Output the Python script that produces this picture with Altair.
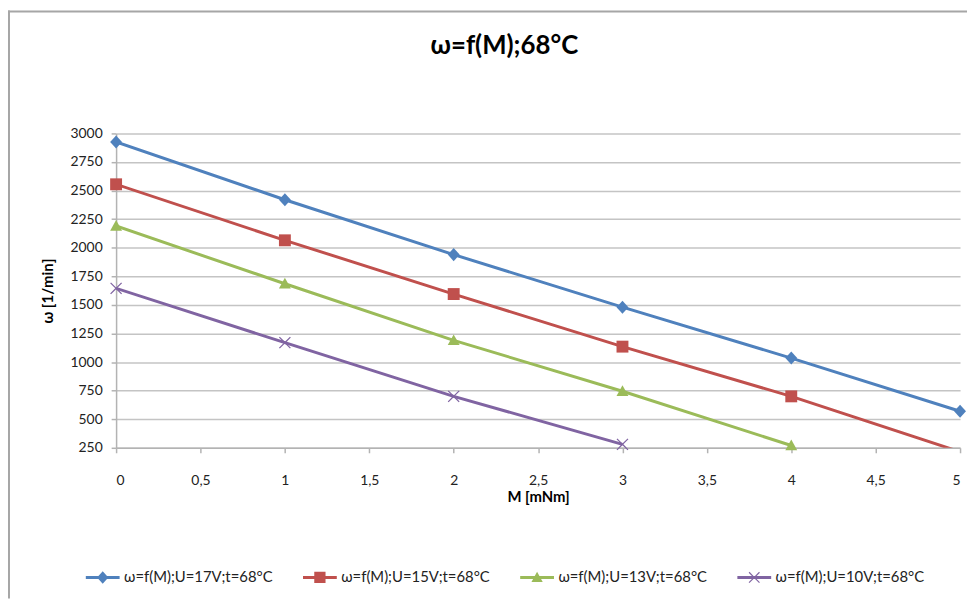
import altair as alt
import pandas as pd

M = [0, 1, 2, 3, 4, 5]
series = [
    "ω=f(M);U=17V;t=68°C",
    "ω=f(M);U=15V;t=68°C",
    "ω=f(M);U=13V;t=68°C",
    "ω=f(M);U=10V;t=68°C",
]
w_17 = [2925, 2420, 1940, 1480, 1035, 570]
w_15 = [2555, 2065, 1595, 1135, 700, 215]
w_13 = [2190, 1685, 1190, 745, 270]
w_10 = [1645, 1170, 700, 280]
colors = ["#4F81BD", "#C0504D", "#9BBB59", "#8064A2"]
x_ticks = [0, 0.5, 1, 1.5, 2, 2.5, 3, 3.5, 4, 4.5, 5]
y_ticks = [250, 500, 750, 1000, 1250, 1500, 1750, 2000, 2250, 2500, 2750, 3000]

rows = []
for s, vals in zip(series, [w_17, w_15, w_13, w_10]):
    for m, w in zip(M, vals):
        rows.append({"series": s, "M": m, "w": w})
df = pd.DataFrame(rows)

FONT = "Lato"
GRAY = "#b3b3b3"

marker_paths = [
    "M0,-1.1L1,0L0,1.1L-1,0Z",
    "M-1,-1L1,-1L1,1L-1,1Z",
    "M0,-1L1,0.8L-1,0.8Z",
    "M-1,-0.85L-0.85,-1L0,-0.15L0.85,-1L1,-0.85L0.15,0L1,0.85L0.85,1L0,0.15L-0.85,1L-1,0.85L-0.15,0Z",
]
bar = "M-3,-0.27L3,-0.27L3,0.27L-3,0.27Z"
legend_paths = [bar + p for p in marker_paths]

x_enc = alt.X(
    "M:Q",
    scale=alt.Scale(domain=[0, 5], nice=False),
    axis=alt.Axis(
        values=x_ticks,
        title="M [mNm]",
        grid=False,
        format="~g",
        labelExpr="replace(datum.label, '.', ',')",
        tickSize=5,
        labelPadding=21,
        titlePadding=2,
    ),
)
y_enc = alt.Y(
    "w:Q",
    scale=alt.Scale(domain=[250, 3000], nice=False, zero=False),
    axis=alt.Axis(
        values=y_ticks,
        title="ω [1/min]",
        grid=True,
        format="d",
        tickSize=5,
        labelPadding=9,
        titlePadding=15,
    ),
)


def cscale():
    return alt.Scale(domain=series, range=colors)


lines = alt.Chart(df).mark_line(strokeWidth=3, clip=True).encode(
    x=x_enc,
    y=y_enc,
    color=alt.Color("series:N", scale=cscale(), legend=None),
)

points = (
    alt.Chart(df)
    .transform_filter("datum.w >= 250")
    .mark_point(filled=True, size=144, opacity=1, strokeWidth=0)
    .encode(
        x=x_enc,
        y=y_enc,
        color=alt.Color("series:N", scale=cscale(), legend=None),
        shape=alt.Shape("series:N", scale=alt.Scale(domain=series, range=marker_paths), legend=None),
    )
)

leg = alt.Legend(
    title=None,
    orient="none",
    direction="horizontal",
    legendX=-21,
    legendY=440,
    symbolSize=129,
    symbolStrokeWidth=0,
    labelOffset=14,
    columnPadding=30,
    labelFont=FONT,
    labelFontSize=15,
    labelColor="#222222",
)

legend_layer = (
    alt.Chart(df)
    .transform_filter("false")
    .mark_point(filled=True, opacity=1, strokeWidth=0)
    .encode(
        x=x_enc,
        y=y_enc,
        color=alt.Color("series:N", scale=cscale(), legend=leg),
        shape=alt.Shape("series:N", scale=alt.Scale(domain=series, range=legend_paths), legend=leg),
    )
)

border_data = alt.Data(values=[{"a": 1}])
left_border = alt.Chart(border_data).mark_rule(color="#a6a6a6", strokeWidth=2).encode(
    x=alt.value(-108), y=alt.value(-124), y2=alt.value(469)
)
top_border = alt.Chart(border_data).mark_rule(color="#a6a6a6", strokeWidth=2).encode(
    x=alt.value(-109), x2=alt.value(858), y=alt.value(-123)
)

chart = (
    alt.layer(lines, points, legend_layer, left_border, top_border)
    .resolve_scale(color="independent", shape="independent")
    .properties(
        width=851,
        height=317,
        autosize=alt.AutoSizeParams(type="none"),
        padding={"left": 109, "top": 124, "right": 7, "bottom": 152},
        title=alt.TitleParams(
            "ω=f(M);68°C",
            font=FONT,
            fontSize=26,
            fontWeight="bold",
            color="#000000",
            dx=-34,
            dy=50,
            offset=0,
        ),
    )
    .configure_view(stroke=None)
    .configure_axis(
        domainColor=GRAY,
        domainWidth=1.5,
        tickColor=GRAY,
        tickWidth=1.5,
        gridColor="#c4c4c4",
        gridWidth=1.5,
        labelFont=FONT,
        labelFontSize=14,
        labelColor="#222222",
        titleFont=FONT,
        titleFontSize=15,
        titleFontWeight="bold",
        titleColor="#000000",
    )
)

chart.save("out.html", embed_options={"renderer": "svg", "actions": False})
